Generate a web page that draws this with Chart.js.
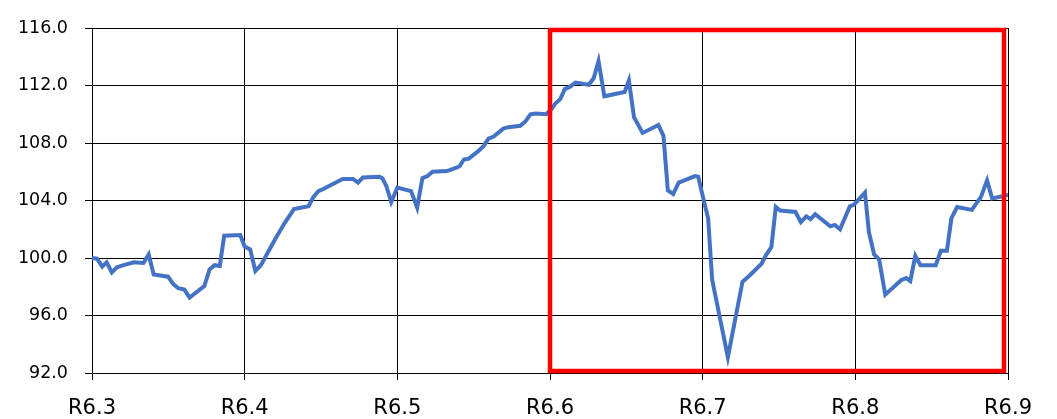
<!DOCTYPE html>
<html>
<head>
<meta charset="utf-8">
<script src="https://cdn.jsdelivr.net/npm/chart.js@4.4.1/dist/chart.umd.min.js"></script>
<style>
  html, body { margin: 0; padding: 0; background: #fff; }
  #wrap { width: 1057px; height: 419px; }
</style>
</head>
<body>
<div id="wrap"><canvas id="chart" width="1057" height="419"></canvas></div>
<script>
// month labels (R6 = 2024)
const monthLabels = ['R6.3', 'R6.4', 'R6.5', 'R6.6', 'R6.7', 'R6.8', 'R6.9'];
const yTicks = [92, 96, 100, 104, 108, 112, 116];

// position in months after R6.3
const positions = [
    0.00, 0.033, 0.067, 0.096, 0.130, 0.163, 0.207, 0.274, 0.337, 0.371, 0.404, 0.498, 0.531, 0.565, 0.605, 0.639, 0.736, 0.770, 0.803, 0.837, 0.866, 0.971,
    1.000, 1.036, 1.070, 1.106, 1.202, 1.266, 1.323, 1.419, 1.451, 1.483, 1.515, 1.642, 1.710, 1.742, 1.774, 1.881, 1.902, 1.928, 1.960,
    2.000, 2.090, 2.130, 2.164, 2.197, 2.231, 2.325, 2.392, 2.409, 2.436, 2.466, 2.526, 2.566, 2.597, 2.631, 2.694, 2.728, 2.805, 2.839, 2.872, 2.906, 2.973,
    3.006, 3.035, 3.067, 3.097, 3.129, 3.167, 3.254, 3.286, 3.318, 3.356, 3.489, 3.517, 3.550, 3.607, 3.710, 3.743, 3.772, 3.807, 3.843, 3.950, 3.971,
    4.004, 4.036, 4.062, 4.165, 4.261, 4.304, 4.386, 4.415, 4.450, 4.479, 4.508, 4.608, 4.643, 4.679, 4.707, 4.737, 4.836, 4.865, 4.900, 4.964, 4.990,
    5.063, 5.089, 5.123, 5.156, 5.196, 5.300, 5.333, 5.360, 5.393, 5.427, 5.527, 5.560, 5.600, 5.629, 5.667, 5.763, 5.823, 5.863, 5.896, 5.963, 6.000
];

const values = [
    100.0, 99.95, 99.4, 99.7, 99.0, 99.35, 99.5, 99.7, 99.65, 100.25, 98.85, 98.7, 98.2, 97.9, 97.8, 97.25, 98.05, 99.2, 99.5, 99.45, 101.55, 101.6,
    100.8, 100.6, 99.1, 99.5, 101.35, 102.5, 103.4, 103.6, 104.25, 104.65, 104.8, 105.5, 105.5, 105.25, 105.6, 105.65, 105.55, 105.0, 103.9,
    104.9, 104.65, 103.5, 105.55, 105.7, 106.0, 106.05, 106.3, 106.4, 106.85, 106.9, 107.4, 107.8, 108.3, 108.45, 109.0, 109.1, 109.2, 109.5, 110.0, 110.05, 110.0,
    110.3, 110.75, 111.05, 111.75, 111.9, 112.2, 112.05, 112.5, 113.7, 111.25, 111.55, 112.35, 109.8, 108.7, 109.25, 108.5, 104.7, 104.45, 105.25, 105.7, 105.65,
    104.15, 102.75, 98.5, 93.1, 98.35, 98.75, 99.6, 100.2, 100.75, 103.55, 103.3, 103.2, 102.5, 102.9, 102.7, 103.05, 102.2, 102.3, 102.0, 103.6, 103.7,
    104.55, 101.8, 100.25, 99.9, 97.45, 98.45, 98.6, 98.4, 100.15, 99.5, 99.5, 100.5, 100.5, 102.75, 103.55, 103.35, 104.25, 105.4, 104.15, 104.3, 104.4
];

// highlighted period (R6.6 - R6.9)
const highlightRange = [3, 6];

const points = positions.map((p, i) => ({ x: p, y: values[i] }));

// red frame around the highlighted months
const highlightBox = {
    id: 'highlightBox',
    afterDatasetsDraw(chart) {
        const { ctx, scales } = chart;
        const x1 = scales.x.getPixelForValue(highlightRange[0]);
        const x2 = scales.x.getPixelForValue(highlightRange[1]) - 4;
        const y1 = scales.y.getPixelForValue(yTicks[yTicks.length - 1]) + 2;
        const y2 = scales.y.getPixelForValue(yTicks[0]) - 2;
        ctx.save();
        ctx.strokeStyle = '#ff0000';
        ctx.lineWidth = 4.5;
        ctx.strokeRect(x1, y1, x2 - x1, y2 - y1);
        ctx.restore();
    }
};

Chart.defaults.font.family = "'DejaVu Sans', sans-serif";
Chart.defaults.color = '#000';

new Chart(document.getElementById('chart'), {
    type: 'line',
    data: {
        datasets: [{
            data: points,
            borderColor: '#4472c4',
            borderWidth: 4,
            pointRadius: 0,
            tension: 0,
            fill: false
        }]
    },
    options: {
        responsive: false,
        animation: false,
        layout: { padding: { left: 0, right: 49, top: 28, bottom: 0 } },
        plugins: { legend: { display: false }, tooltip: { enabled: false } },
        scales: {
            x: {
                type: 'linear',
                min: 0,
                max: monthLabels.length - 1,
                afterBuildTicks: (scale) => {
                    scale.ticks = monthLabels.map((_, i) => ({ value: i }));
                },
                afterFit: (scale) => { scale.height = 46; },
                ticks: {
                    padding: 16,
                    maxRotation: 0,
                    font: { size: 21 },
                    callback: (v) => monthLabels[v]
                },
                grid: { color: '#000', lineWidth: 1, tickLength: 7 },
                border: { color: '#000', width: 1 }
            },
            y: {
                min: yTicks[0],
                max: yTicks[yTicks.length - 1],
                afterBuildTicks: (scale) => {
                    scale.ticks = yTicks.map(v => ({ value: v }));
                },
                afterFit: (scale) => { scale.width = 92; },
                ticks: {
                    padding: 17,
                    font: { size: 17.5 },
                    callback: (v) => v.toFixed(1)
                },
                grid: { color: '#000', lineWidth: 1, tickLength: 7 },
                border: { color: '#000', width: 1 }
            }
        }
    },
    plugins: [highlightBox]
});
</script>
</body>
</html>
